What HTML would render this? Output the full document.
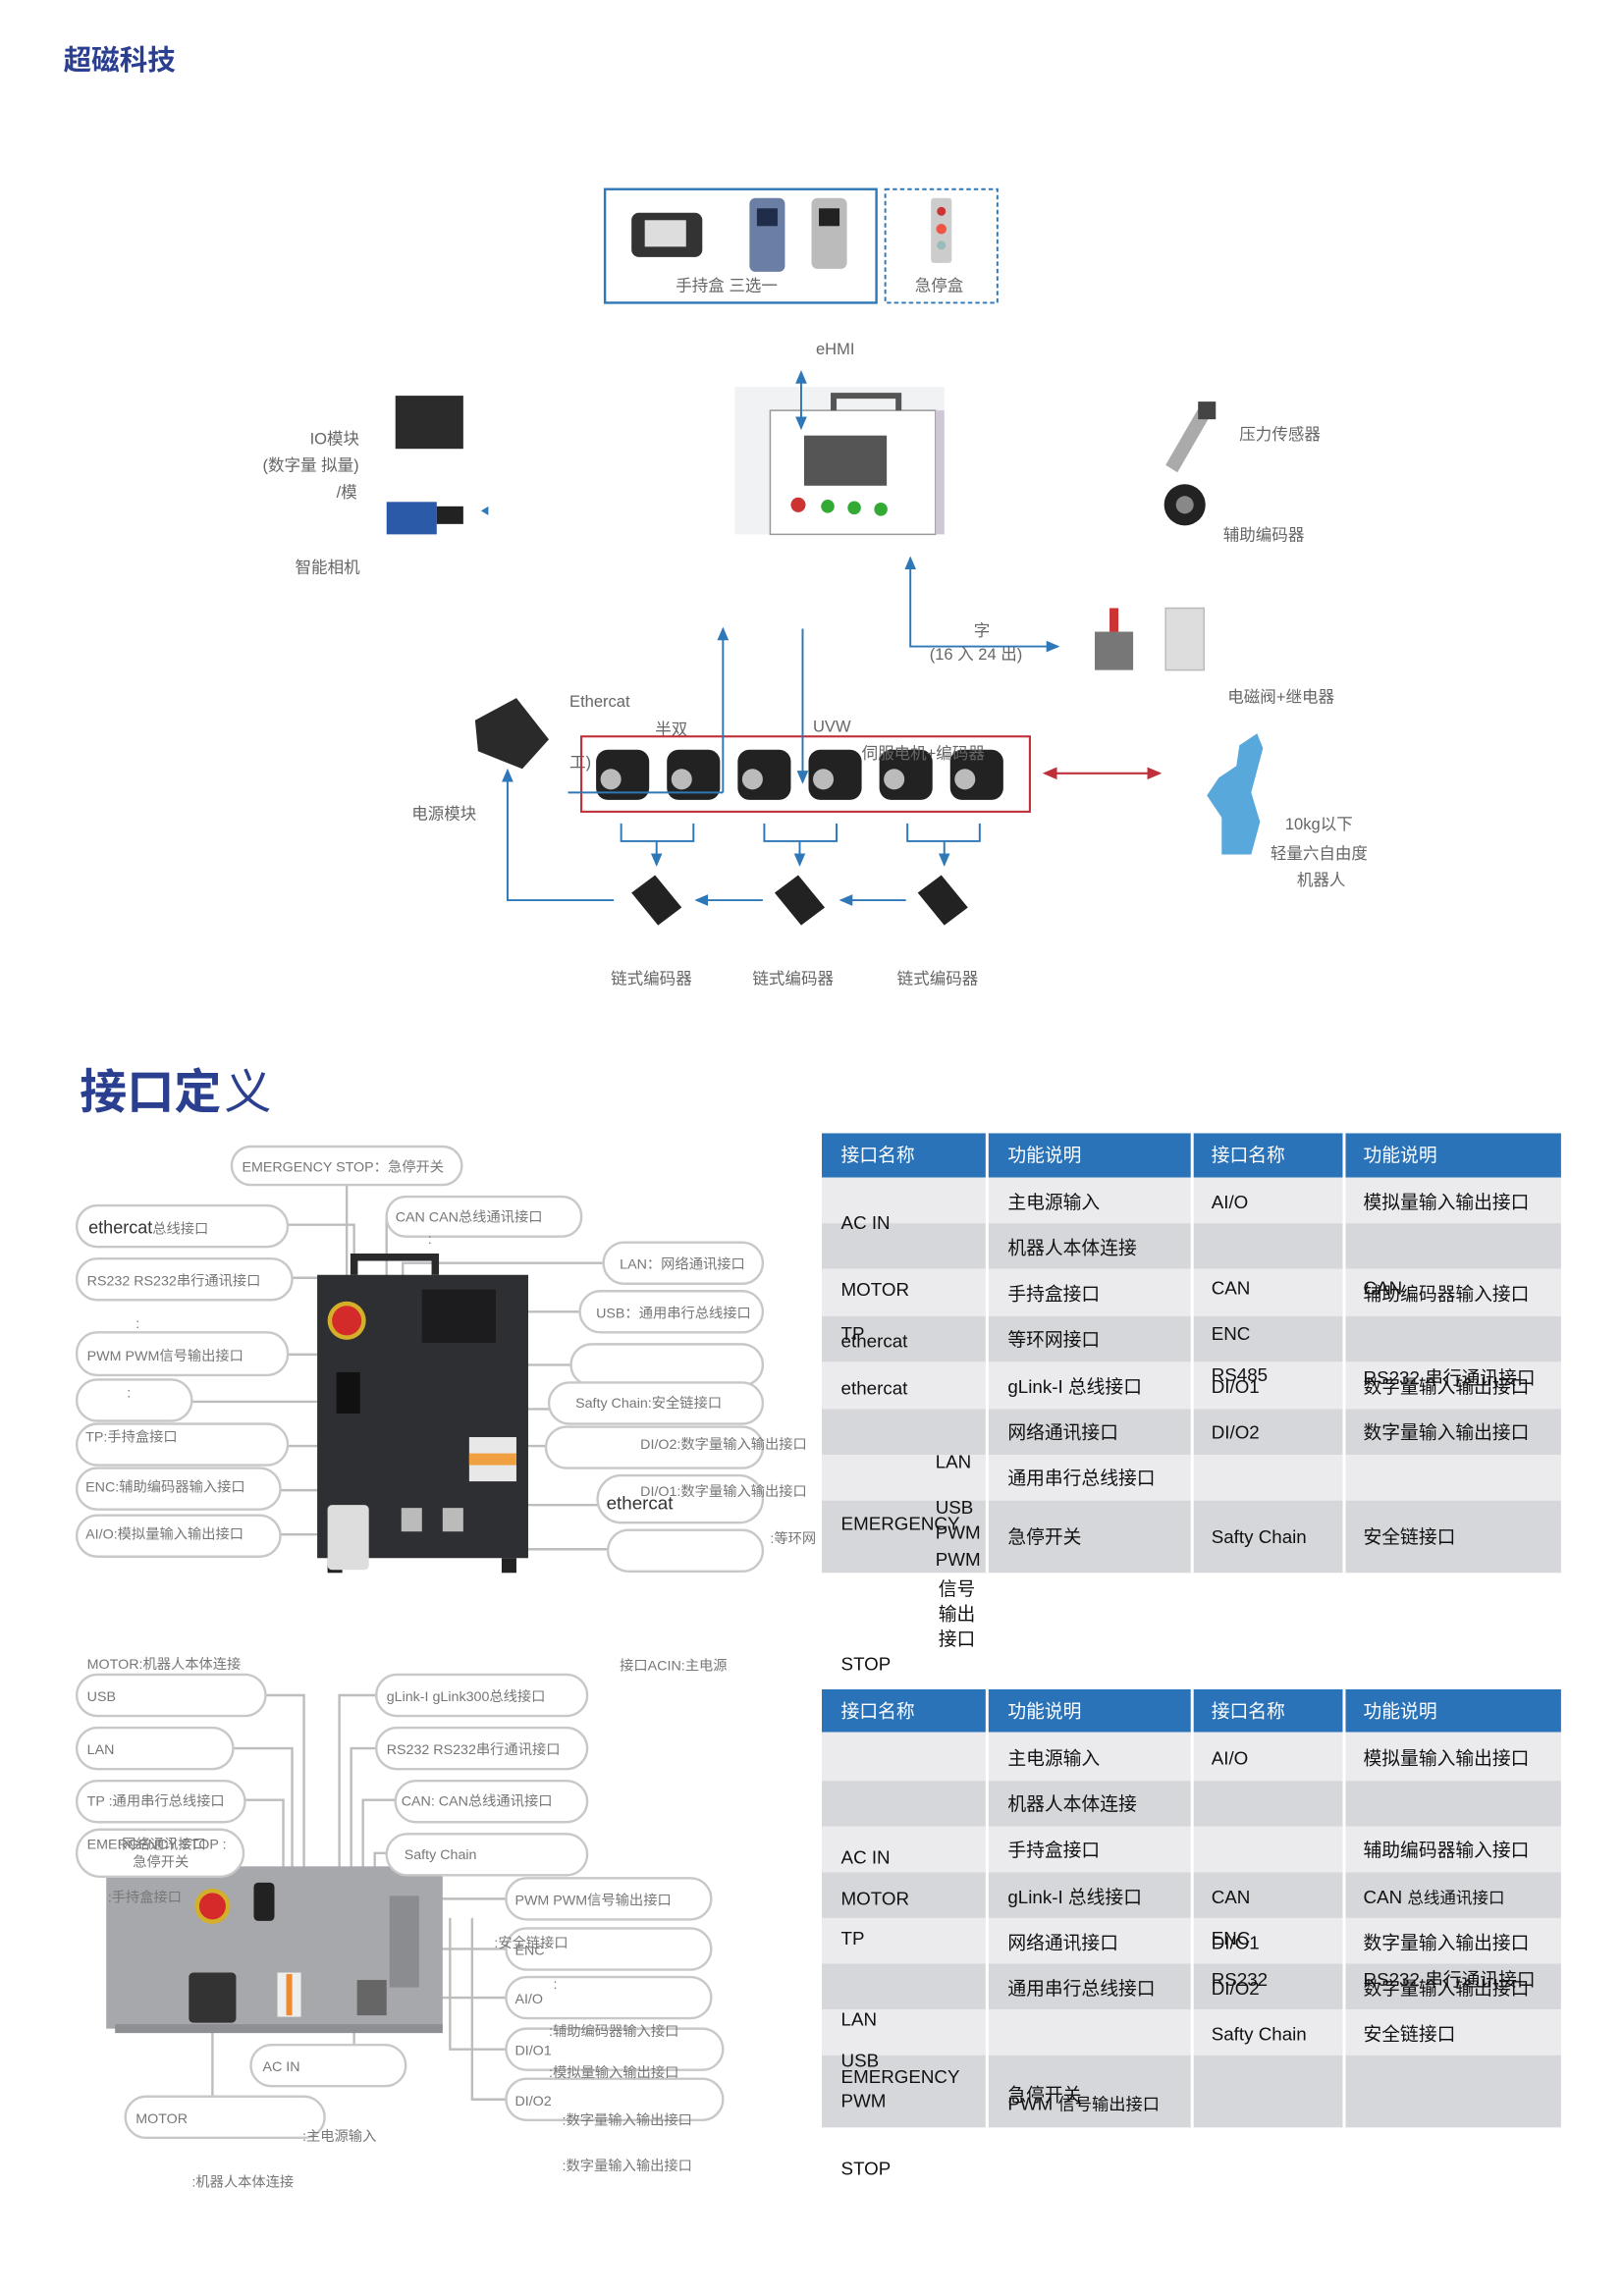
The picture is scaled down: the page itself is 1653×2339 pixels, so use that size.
<!DOCTYPE html>
<html><head><meta charset="utf-8">
<style>
html,body{margin:0;padding:0;background:#fff;}
svg{display:block;}
text{font-family:"Liberation Sans","Noto Sans CJK SC",sans-serif;}
.g{fill:#666;font-size:11px;}
.s{fill:#777;font-size:9.5px;}
.t{fill:#111;font-size:12.5px;}
.h{fill:#fff;font-size:12.5px;}
.pill{fill:#fff;stroke:#c8c8c8;stroke-width:1.6;}
.ln{stroke:#bdbdbd;stroke-width:1.6;fill:none;}
.bl{stroke:#2f78b8;stroke-width:1.3;fill:none;}
</style></head><body>
<svg width="1653" height="2339" viewBox="0 0 1100 1556" xmlns="http://www.w3.org/2000/svg">
<defs>
<marker id="ab" markerWidth="8" markerHeight="8" refX="6" refY="4" orient="auto"><path d="M0,1 L7,4 L0,7 z" fill="#2f78b8"/></marker>
<marker id="ar" markerWidth="8" markerHeight="8" refX="6" refY="4" orient="auto-start-reverse"><path d="M0,1 L7,4 L0,7 z" fill="#c0303a"/></marker>
<marker id="ab2" markerWidth="8" markerHeight="8" refX="6" refY="4" orient="auto-start-reverse"><path d="M0,1 L7,4 L0,7 z" fill="#2f78b8"/></marker>
</defs>
<text x="43" y="47" fill="#2a3f8f" font-size="19" font-weight="bold">超磁科技</text>

<!-- top boxes -->
<rect x="410" y="128" width="184" height="77" fill="none" stroke="#2f78b8" stroke-width="1.6"/>
<rect x="600" y="128" width="76" height="77" fill="none" stroke="#2f78b8" stroke-width="1.3" stroke-dasharray="3,2"/>
<rect x="428" y="144" width="48" height="30" rx="5" fill="#333"/><rect x="437" y="149" width="28" height="18" fill="#ddd"/>
<rect x="508" y="134" width="24" height="50" rx="4" fill="#6b7fa4"/><rect x="513" y="141" width="14" height="12" fill="#1f2d4a"/>
<rect x="550" y="134" width="24" height="48" rx="4" fill="#bbb"/><rect x="555" y="141" width="14" height="12" fill="#222"/>
<rect x="631" y="134" width="14" height="44" rx="2" fill="#ccc"/><circle cx="638" cy="143" r="3" fill="#c33"/><circle cx="638" cy="155" r="3.5" fill="#e54"/><circle cx="638" cy="166" r="3" fill="#9bb"/>
<text x="458" y="197" class="g">手持盒 三选一</text>
<text x="620" y="197" class="g">急停盒</text>

<text x="553" y="240" class="g">eHMI</text>
<!-- cabinet -->
<rect x="498" y="262" width="142" height="100" fill="#f1f2f4"/>
<rect x="522" y="278" width="112" height="84" fill="#fff" stroke="#999"/>
<rect x="634" y="278" width="6" height="84" fill="#cfc6d6"/>
<path d="M565,278 v-10 h44 v10" fill="none" stroke="#555" stroke-width="4"/>
<rect x="545" y="295" width="56" height="34" fill="#555"/>
<circle cx="541" cy="342" r="5" fill="#c33"/><circle cx="561" cy="343" r="4.5" fill="#3a3"/><circle cx="579" cy="344" r="4.5" fill="#3a3"/><circle cx="597" cy="345" r="4.5" fill="#3a3"/>
<line x1="543" y1="252" x2="543" y2="290" class="bl" marker-end="url(#ab)" marker-start="url(#ab2)"/>

<!-- IO & camera -->
<rect x="268" y="268" width="46" height="36" fill="#2b2b2b"/>
<rect x="262" y="340" width="34" height="22" fill="#2b5aa8"/><rect x="296" y="343" width="18" height="12" fill="#222"/>
<path d="M331,343 l-5,3 l5,3 z" fill="#2f78b8"/>
<text x="210" y="301" class="g">IO模块</text>
<text x="178" y="319" class="g">(数字量    拟量)</text>
<text x="228" y="337" class="g">/模</text>
<text x="200" y="388" class="g">智能相机</text>

<!-- sensors -->
<path d="M790,315 l22,-38 l8,5 l-22,38 z" fill="#aaa"/><rect x="812" y="272" width="12" height="12" fill="#444"/>
<circle cx="803" cy="342" r="14" fill="#222"/><circle cx="803" cy="342" r="6" fill="#888"/>
<text x="840" y="298" class="g">压力传感器</text>
<text x="829" y="366" class="g">辅助编码器</text>

<!-- ehmi to valves -->
<polyline points="617,380 617,438 717,438" class="bl" marker-end="url(#ab)"/>
<line x1="617" y1="384" x2="617" y2="378" class="bl" marker-end="url(#ab)"/>
<text x="660" y="431" class="g">字</text>
<text x="630" y="447" class="g">(16 入 24 出)</text>
<rect x="742" y="428" width="26" height="26" fill="#777"/><rect x="752" y="412" width="6" height="16" fill="#c33"/>
<rect x="790" y="412" width="26" height="42" fill="#ddd" stroke="#bbb"/>
<text x="832" y="476" class="g">电磁阀+继电器</text>

<!-- power module -->
<path d="M322,488 l28,-15 l22,28 l-18,20 l-30,-12 z" fill="#2a2a2a"/>
<text x="279" y="555" class="g">电源模块</text>
<text x="386" y="479" class="g">Ethercat</text>
<text x="444" y="498" class="g">半双</text>
<text x="551" y="496" class="g">UVW</text>
<text x="386" y="520" class="g">工)</text>

<!-- motors -->
<rect x="394" y="499" width="304" height="51" fill="none" stroke="#c0303a" stroke-width="1.4"/>
<g fill="#222">
<rect x="404" y="508" width="36" height="34" rx="8"/><rect x="452" y="508" width="36" height="34" rx="8"/><rect x="500" y="508" width="36" height="34" rx="8"/><rect x="548" y="508" width="36" height="34" rx="8"/><rect x="596" y="508" width="36" height="34" rx="8"/><rect x="644" y="508" width="36" height="34" rx="8"/>
</g>
<g fill="#bbb"><circle cx="414" cy="528" r="7"/><circle cx="462" cy="528" r="7"/><circle cx="510" cy="528" r="7"/><circle cx="558" cy="528" r="7"/><circle cx="606" cy="528" r="7"/><circle cx="654" cy="528" r="7"/></g>
<text x="584" y="514" class="g">伺服电机+编码器</text>
<line x1="490" y1="537" x2="490" y2="426" class="bl" marker-end="url(#ab)"/>
<line x1="385" y1="537" x2="490" y2="537" class="bl"/>
<line x1="544" y1="426" x2="544" y2="530" class="bl" marker-end="url(#ab)"/>
<line x1="708" y1="524" x2="786" y2="524" stroke="#c0303a" stroke-width="1.4" marker-end="url(#ar)" marker-start="url(#ar)"/>

<!-- robot -->
<path d="M840,505 l12,-8 l4,10 l-8,30 l6,20 l-6,22 l-20,0 l0,-25 l-10,-15 l8,-12 l12,-8 z" fill="#58a8dc"/>
<text x="871" y="562" class="g">10kg以下</text>
<text x="861" y="582" class="g">轻量六自由度</text>
<text x="879" y="600" class="g">机器人</text>

<!-- brackets -->
<g class="bl">
<polyline points="421,558 421,570 470,570 470,558"/><line x1="445" y1="570" x2="445" y2="586" marker-end="url(#ab)"/>
<polyline points="518,558 518,570 567,570 567,558"/><line x1="542" y1="570" x2="542" y2="586" marker-end="url(#ab)"/>
<polyline points="615,558 615,570 664,570 664,558"/><line x1="640" y1="570" x2="640" y2="586" marker-end="url(#ab)"/>
<polyline points="416,610 344,610 344,522" marker-end="url(#ab)"/>
<line x1="517" y1="610" x2="472" y2="610" marker-end="url(#ab)"/>
<line x1="614" y1="610" x2="570" y2="610" marker-end="url(#ab)"/>
</g>
<g fill="#222">
<path d="M428,605 l16,-12 l18,22 l-16,12 z"/><path d="M525,605 l16,-12 l18,22 l-16,12 z"/><path d="M622,605 l16,-12 l18,22 l-16,12 z"/>
</g>
<text x="414" y="667" class="g">链式编码器</text>
<text x="510" y="667" class="g">链式编码器</text>
<text x="608" y="667" class="g">链式编码器</text>

<!-- section 2 -->
<text x="54" y="751" fill="#2a3f8f" font-size="32" font-weight="bold">接口定</text><text x="152" y="751" fill="#2a3f8f" font-size="32">义</text>

<!-- diagram 1 lines -->
<g class="ln">
<polyline points="235,803 235,895"/>
<polyline points="195,830 240,830 240,880"/>
<polyline points="198,866 252,866 252,880"/>
<polyline points="262,825 262,880"/>
<polyline points="409,856 273,856 273,880"/>
<polyline points="393,889 295,889"/>
<polyline points="195,918 268,918 268,1000"/>
<polyline points="130,950 232,950"/>
<polyline points="387,925 330,925 330,900"/>
<polyline points="195,980 268,980"/>
<polyline points="372,955 282,955"/>
<polyline points="370,980 282,980"/>
<polyline points="190,1010 268,1010 268,992"/>
<polyline points="190,1040 240,1040"/>
<polyline points="405,1020 309,1020 309,1035"/>
<polyline points="412,1050 348,1050 348,1040"/>
</g>
<!-- device 1 -->
<path d="M240,864 v-12 h55 v12" fill="none" stroke="#2a2a2c" stroke-width="5"/>
<rect x="215" y="864" width="143" height="192" fill="#2e2f33"/>
<rect x="222" y="1056" width="10" height="10" fill="#222"/><rect x="340" y="1056" width="10" height="10" fill="#222"/>
<circle cx="235" cy="895" r="13" fill="#d4b02a"/><circle cx="235" cy="895" r="10" fill="#d42a2a"/>
<rect x="286" y="874" width="50" height="36" fill="#1c1c1e"/>
<rect x="318" y="974" width="32" height="30" fill="#e8e8e8"/><rect x="318" y="985" width="32" height="8" fill="#f0a040"/>
<rect x="222" y="1020" width="28" height="44" rx="3" fill="#ddd"/>
<rect x="228" y="930" width="16" height="28" fill="#111"/>
<rect x="272" y="1022" width="14" height="16" fill="#bbb"/><rect x="300" y="1022" width="14" height="16" fill="#bbb"/>

<!-- pills diagram 1 -->
<g class="pill">
<rect x="157" y="777" width="156" height="26" rx="13"/>
<rect x="262" y="811" width="132" height="27" rx="13"/>
<rect x="52" y="817" width="143" height="28" rx="14"/>
<rect x="52" y="853" width="146" height="28" rx="14"/>
<rect x="409" y="842" width="108" height="28" rx="14"/>
<rect x="393" y="875" width="124" height="28" rx="14"/>
<rect x="52" y="903" width="143" height="29" rx="14"/>
<rect x="52" y="935" width="78" height="28" rx="14"/>
<rect x="387" y="911" width="130" height="28" rx="14"/>
<rect x="372" y="937" width="145" height="28" rx="14"/>
<rect x="52" y="965" width="143" height="28" rx="14"/>
<rect x="370" y="967" width="147" height="28" rx="14"/>
<rect x="52" y="995" width="138" height="28" rx="14"/>
<rect x="52" y="1027" width="138" height="28" rx="14"/>
<rect x="405" y="1000" width="112" height="32" rx="16"/>
<rect x="412" y="1037" width="105" height="28" rx="14"/>
</g>
<text x="164" y="794" class="s">EMERGENCY STOP：急停开关</text>
<text x="268" y="828" class="s">CAN  CAN总线通讯接口</text>
<text x="60" y="836" fill="#333" font-size="12">ethercat<tspan class="s" font-size="9.5" fill="#777">总线接口</tspan></text>
<text x="59" y="871" class="s">RS232  RS232串行通讯接口</text>
<text x="420" y="860" class="s">LAN：网络通讯接口</text>
<text x="404" y="893" class="s">USB：通用串行总线接口</text>
<text x="59" y="922" class="s">PWM  PWM信号输出接口</text>
<text x="86" y="947" class="s">:</text>
<text x="390" y="954" class="s">Safty Chain:安全链接口</text>
<text x="58" y="977" class="s">TP:手持盒接口</text>
<text x="434" y="982" class="s">DI/O2:数字量输入输出接口</text>
<text x="58" y="1011" class="s">ENC:辅助编码器输入接口</text>
<text x="434" y="1014" class="s">DI/O1:数字量输入输出接口</text>
<text x="58" y="1043" class="s">AI/O:模拟量输入输出接口</text>
<text x="411" y="1023" fill="#333" font-size="12.5">ethercat</text>
<text x="522" y="1046" class="s">:等环网</text>
<text x="92" y="900" class="s">:</text>
<text x="290" y="843" class="s">:</text>

<!-- diagram 2 -->
<text x="59" y="1131" class="s">MOTOR:机器人本体连接</text>
<text x="420" y="1132" class="s">接口ACIN:主电源</text>
<g class="ln">
<polyline points="180,1149 206,1149 206,1275"/>
<polyline points="158,1185 198,1185 198,1275"/>
<polyline points="166,1220 192,1220 192,1275"/>
<polyline points="255,1149 230,1149 230,1275"/>
<polyline points="255,1185 238,1185 238,1275"/>
<polyline points="268,1220 246,1220 246,1275"/>
<polyline points="262,1256 254,1256 254,1275"/>
<polyline points="343,1287 290,1287"/>
<polyline points="343,1321 290,1321"/>
<polyline points="343,1354 290,1354"/>
<polyline points="343,1389 305,1389 305,1300"/>
<polyline points="343,1423 320,1423 320,1300"/>
<polyline points="240,1386 240,1370"/>
<polyline points="145,1240 145,1275"/>
<polyline points="144,1421 144,1345"/>
</g>
<rect x="72" y="1265" width="228" height="110" fill="#a6a8ac"/>
<rect x="78" y="1372" width="222" height="6" fill="#8d8f93"/>
<circle cx="144" cy="1292" r="12" fill="#d4b02a"/><circle cx="144" cy="1292" r="9" fill="#d42a2a"/>
<rect x="172" y="1276" width="14" height="26" rx="3" fill="#222"/>
<rect x="128" y="1337" width="32" height="34" rx="3" fill="#333"/>
<rect x="188" y="1337" width="16" height="30" fill="#eee"/><rect x="194" y="1338" width="4" height="28" fill="#f08a30"/>
<rect x="242" y="1342" width="20" height="24" fill="#666"/>
<rect x="264" y="1285" width="20" height="62" fill="#8a8c90"/>
<g class="pill">
<rect x="52" y="1135" width="128" height="28" rx="14"/>
<rect x="255" y="1135" width="143" height="28" rx="14"/>
<rect x="52" y="1171" width="106" height="28" rx="14"/>
<rect x="255" y="1171" width="143" height="28" rx="14"/>
<rect x="52" y="1207" width="114" height="28" rx="14"/>
<rect x="268" y="1207" width="130" height="28" rx="14"/>
<rect x="52" y="1240" width="113" height="32" rx="16"/>
<rect x="262" y="1243" width="136" height="28" rx="14"/>
<rect x="343" y="1273" width="139" height="28" rx="14"/>
<rect x="343" y="1307" width="139" height="28" rx="14"/>
<rect x="343" y="1340" width="139" height="28" rx="14"/>
<rect x="343" y="1375" width="147" height="28" rx="14"/>
<rect x="343" y="1409" width="147" height="28" rx="14"/>
<rect x="170" y="1386" width="105" height="28" rx="14"/>
<rect x="85" y="1421" width="135" height="28" rx="14"/>
</g>
<text x="59" y="1153" class="s">USB</text>
<text x="262" y="1153" class="s">gLink-I  gLink300总线接口</text>
<text x="59" y="1189" class="s">LAN</text>
<text x="262" y="1189" class="s">RS232  RS232串行通讯接口</text>
<text x="59" y="1224" class="s">TP  :通用串行总线接口</text>
<text x="272" y="1224" class="s">CAN: CAN总线通讯接口</text>
<text x="59" y="1253" class="s">EMERGENCY STOP :</text>
<text x="80" y="1253" class="s">:网络通讯接口</text>
<text x="90" y="1265" class="s">急停开关</text>
<text x="274" y="1260" class="s">Safty Chain</text>
<text x="73" y="1289" class="s">:手持盒接口</text>
<text x="349" y="1291" class="s">PWM  PWM信号输出接口</text>
<text x="349" y="1325" class="s">ENC</text><text x="335" y="1320" class="s">:安全链接口</text>
<text x="349" y="1358" class="s">AI/O</text><text x="375" y="1348" class="s">:</text>
<text x="349" y="1393" class="s">DI/O1</text><text x="372" y="1380" class="s">:辅助编码器输入接口</text>
<text x="349" y="1427" class="s">DI/O2</text><text x="372" y="1408" class="s">:模拟量输入输出接口</text>
<text x="381" y="1440" class="s">:数字量输入输出接口</text>
<text x="381" y="1471" class="s">:数字量输入输出接口</text>
<text x="178" y="1404" class="s">AC IN</text>
<text x="92" y="1439" class="s">MOTOR</text>
<text x="205" y="1451" class="s">:主电源输入</text>
<text x="130" y="1482" class="s">:机器人本体连接</text>

<!-- table 1 -->
<g>
<rect x="557" y="768" width="501" height="30" fill="#2a73b8"/>
<rect x="557" y="798" width="501" height="31" fill="#ebebee"/>
<rect x="557" y="829" width="501" height="31" fill="#d6d7da"/>
<rect x="557" y="860" width="501" height="32" fill="#ebebee"/>
<rect x="557" y="892" width="501" height="31" fill="#d6d7da"/>
<rect x="557" y="923" width="501" height="32" fill="#ebebee"/>
<rect x="557" y="955" width="501" height="31" fill="#d6d7da"/>
<rect x="557" y="986" width="501" height="31" fill="#ebebee"/>
<rect x="557" y="1017" width="501" height="49" fill="#d6d7da"/>
<g stroke="#fff" stroke-width="2"><line x1="669" y1="768" x2="669" y2="1066"/><line x1="808" y1="768" x2="808" y2="1066"/><line x1="911" y1="768" x2="911" y2="1066"/></g>
</g>
<text x="570" y="787" class="h">接口名称</text><text x="683" y="787" class="h">功能说明</text><text x="821" y="787" class="h">接口名称</text><text x="924" y="787" class="h">功能说明</text>
<text x="570" y="833" class="t">AC IN</text>
<text x="570" y="878" class="t">MOTOR</text>
<text x="570" y="908" class="t">TP</text><text x="570" y="913" class="t">ethercat</text>
<text x="570" y="945" class="t">ethercat</text>
<text x="634" y="995" class="t">LAN</text>
<text x="634" y="1026" class="t">USB</text>
<text x="570" y="1037" class="t">EMERGENCY</text>
<text x="634" y="1043" class="t">PWM</text>
<text x="634" y="1061" class="t">PWM</text>
<text x="636" y="1081" class="t">信号</text>
<text x="636" y="1098" class="t">输出</text>
<text x="636" y="1115" class="t">接口</text>
<text x="570" y="1132" class="t">STOP</text>
<text x="683" y="819" class="t">主电源输入</text>
<text x="683" y="850" class="t">机器人本体连接</text>
<text x="683" y="881" class="t">手持盒接口</text>
<text x="683" y="912" class="t">等环网接口</text>
<text x="683" y="944" class="t">gLink-I 总线接口</text>
<text x="683" y="975" class="t">网络通讯接口</text>
<text x="683" y="1006" class="t">通用串行总线接口</text>
<text x="683" y="1046" class="t">急停开关</text>
<text x="821" y="819" class="t">AI/O</text>
<text x="821" y="877" class="t">CAN</text>
<text x="821" y="908" class="t">ENC</text>
<text x="821" y="936" class="t">RS485</text><text x="821" y="944" class="t">DI/O1</text>
<text x="821" y="975" class="t">DI/O2</text>
<text x="821" y="1046" class="t">Safty Chain</text>
<text x="924" y="819" class="t">模拟量输入输出接口</text>
<text x="924" y="877" class="t">CAN</text><text x="924" y="881" class="t">辅助编码器输入接口</text>
<text x="924" y="938" class="t">RS232 串行通讯接口</text><text x="924" y="944" class="t">数字量输入输出接口</text>
<text x="924" y="975" class="t">数字量输入输出接口</text>
<text x="924" y="1046" class="t">安全链接口</text>

<!-- table 2 -->
<rect x="557" y="1145" width="501" height="29" fill="#2a73b8"/>
<rect x="557" y="1174" width="501" height="33" fill="#ebebee"/>
<rect x="557" y="1207" width="501" height="31" fill="#d6d7da"/>
<rect x="557" y="1238" width="501" height="31" fill="#ebebee"/>
<rect x="557" y="1269" width="501" height="31" fill="#d6d7da"/>
<rect x="557" y="1300" width="501" height="31" fill="#ebebee"/>
<rect x="557" y="1331" width="501" height="31" fill="#d6d7da"/>
<rect x="557" y="1362" width="501" height="31" fill="#ebebee"/>
<rect x="557" y="1393" width="501" height="49" fill="#d6d7da"/>
<g stroke="#fff" stroke-width="2"><line x1="669" y1="1145" x2="669" y2="1442"/><line x1="808" y1="1145" x2="808" y2="1442"/><line x1="911" y1="1145" x2="911" y2="1442"/></g>
<text x="570" y="1164" class="h">接口名称</text><text x="683" y="1164" class="h">功能说明</text><text x="821" y="1164" class="h">接口名称</text><text x="924" y="1164" class="h">功能说明</text>
<text x="570" y="1263" class="t">AC IN</text>
<text x="570" y="1291" class="t">MOTOR</text>
<text x="570" y="1318" class="t">TP</text>
<text x="570" y="1373" class="t">LAN</text>
<text x="570" y="1401" class="t">USB</text>
<text x="570" y="1412" class="t">EMERGENCY</text>
<text x="570" y="1428" class="t">PWM</text>
<text x="570" y="1474" class="t">STOP</text>
<text x="683" y="1196" class="t">主电源输入</text>
<text x="683" y="1227" class="t">机器人本体连接</text>
<text x="683" y="1258" class="t">手持盒接口</text>
<text x="683" y="1290" class="t">gLink-I 总线接口</text>
<text x="683" y="1321" class="t">网络通讯接口</text>
<text x="683" y="1352" class="t">通用串行总线接口</text>
<text x="683" y="1424" class="t">急停开关</text>
<text x="683" y="1430" class="t">PWM <tspan font-size="11.5">信号输出接口</tspan></text>
<text x="821" y="1196" class="t">AI/O</text>
<text x="821" y="1290" class="t">CAN</text>
<text x="821" y="1318" class="t">ENC</text><text x="821" y="1321" class="t">DI/O1</text>
<text x="821" y="1346" class="t">RS232</text><text x="821" y="1352" class="t">DI/O2</text>
<text x="821" y="1383" class="t">Safty Chain</text>
<text x="924" y="1196" class="t">模拟量输入输出接口</text>
<text x="924" y="1258" class="t">辅助编码器输入接口</text>
<text x="924" y="1290" class="t">CAN <tspan font-size="11">总线通讯接口</tspan></text>
<text x="924" y="1321" class="t">数字量输入输出接口</text>
<text x="924" y="1346" class="t">RS232 串行通讯接口</text><text x="924" y="1352" class="t">数字量输入输出接口</text>
<text x="924" y="1383" class="t">安全链接口</text>
</svg>
</body></html>
